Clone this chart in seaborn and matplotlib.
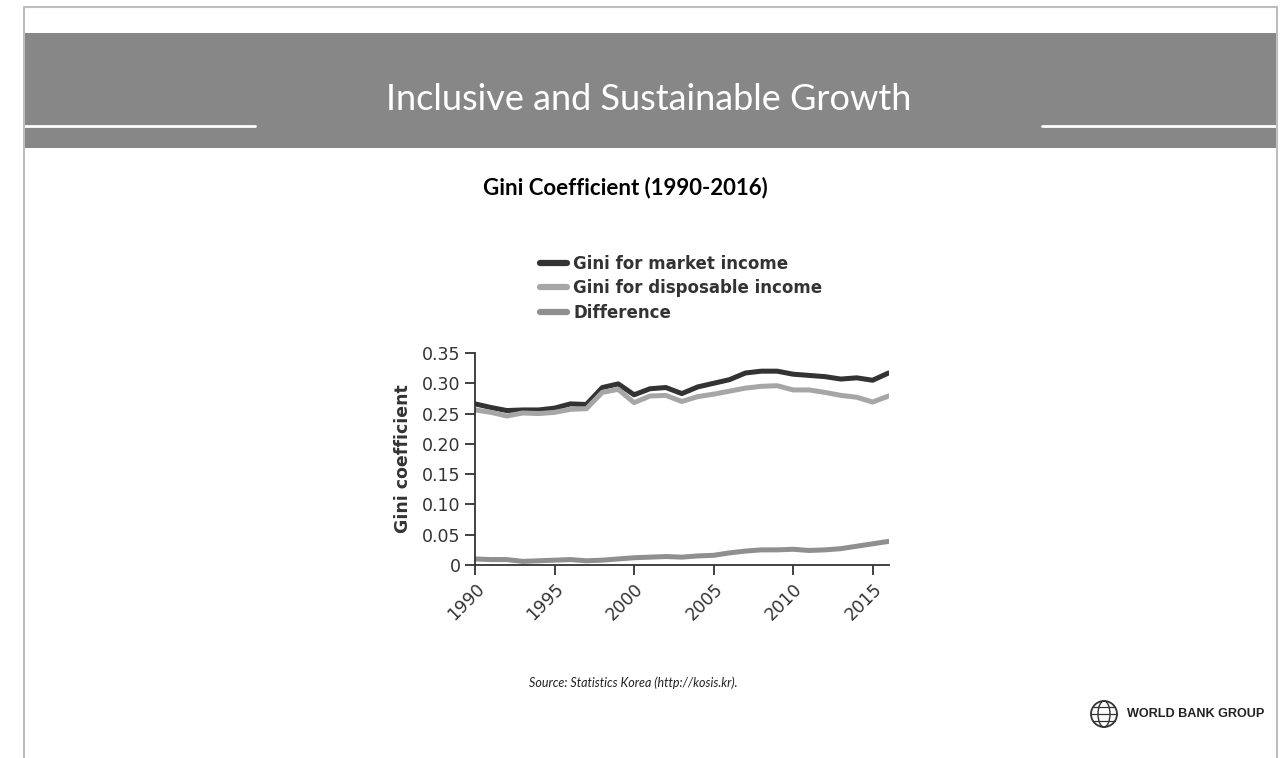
#!/usr/bin/env python3
import numpy as np
import pandas as pd
import seaborn as sns
from matplotlib import pyplot as plt
from matplotlib.patches import Rectangle, Circle, Ellipse
from matplotlib.lines import Line2D

years = list(range(1990, 2017))
market = [0.266, 0.260, 0.255, 0.256, 0.256, 0.259, 0.266, 0.265, 0.293, 0.299,
          0.281, 0.291, 0.293, 0.283, 0.294, 0.300, 0.306, 0.317, 0.320, 0.320,
          0.315, 0.313, 0.311, 0.307, 0.309, 0.305, 0.317]
disposable = [0.256, 0.252, 0.246, 0.251, 0.250, 0.252, 0.257, 0.258, 0.285, 0.290,
              0.268, 0.279, 0.280, 0.270, 0.278, 0.282, 0.287, 0.292, 0.295, 0.296,
              0.289, 0.289, 0.285, 0.280, 0.277, 0.269, 0.279]
difference = [0.010, 0.009, 0.009, 0.006, 0.007, 0.008, 0.009, 0.007, 0.008, 0.010,
              0.012, 0.013, 0.014, 0.013, 0.015, 0.016, 0.020, 0.023, 0.025, 0.025,
              0.026, 0.024, 0.025, 0.027, 0.031, 0.035, 0.039]
series_names = ["Gini for market income", "Gini for disposable income", "Difference"]
colors = ["#333333", "#a6a6a6", "#8f8f8f"]
yticks = [0, 0.05, 0.10, 0.15, 0.20, 0.25, 0.30, 0.35]
ytick_labels = ["0", "0.05", "0.10", "0.15", "0.20", "0.25", "0.30", "0.35"]
xticks = [1990, 1995, 2000, 2005, 2010, 2015]


def main():
    sns.set_style("ticks")
    plt.rcParams['font.family'] = ['DejaVu Sans']

    df = pd.DataFrame({
        "year": years * 3,
        "gini": market + disposable + difference,
        "series": [series_names[0]] * len(years) + [series_names[1]] * len(years)
                  + [series_names[2]] * len(years),
    })

    fig = plt.figure(figsize=(12.84, 7.58), dpi=100)

    # slide frame and banner
    bg = fig.add_axes([0, 0, 1, 1], zorder=0)
    bg.set_xlim(0, 1284)
    bg.set_ylim(758, 0)
    bg.axis("off")
    bg.add_patch(Rectangle((24, 33), 1253, 115, color="#878787", lw=0))
    bg.plot([24, 255], [126, 126], color="white", lw=2)
    bg.plot([1042, 1277], [126, 126], color="white", lw=2)
    bg.plot([24, 1277], [7, 7], color="#bdbdbd", lw=1.5)
    bg.plot([24, 24], [7, 758], color="#bdbdbd", lw=1.5)
    bg.plot([1277, 1277], [7, 758], color="#bdbdbd", lw=1.5)
    bg.text(649, 99, "Inclusive and Sustainable Growth", color="white",
            fontsize=26, fontweight="normal", ha="center", va="center", family="Lato")
    bg.text(625, 188, "Gini Coefficient (1990-2016)", color="black",
            fontsize=16, fontweight="bold", ha="center", va="center", family="Lato")
    bg.text(633, 683, "Source: Statistics Korea (http://kosis.kr).", color="#222222",
            fontsize=9, style="italic", ha="center", va="center", family="Lato")
    # world bank logo
    bg.add_patch(Circle((1104, 714), 13, fill=False, ec="#333333", lw=1.3))
    bg.add_patch(Ellipse((1104, 714), 12, 26, fill=False, ec="#333333", lw=1.0))
    bg.plot([1091, 1117], [714, 714], color="#333333", lw=0.9)
    bg.plot([1093, 1115], [707, 707], color="#333333", lw=0.9)
    bg.plot([1093, 1115], [721, 721], color="#333333", lw=0.9)
    bg.text(1127, 714, "WORLD BANK GROUP", color="#222222", fontsize=9.1,
            fontweight="bold", ha="left", va="center", family="Liberation Sans")

    ax = fig.add_axes([0.370, 0.2546, 0.322, 0.2797], zorder=2)
    sns.lineplot(data=df, x="year", y="gini", hue="series", palette=colors,
                 linewidth=3.6, ax=ax, legend=False)
    ax.set_xlim(1990, 2016)
    ax.set_ylim(0, 0.35)
    ax.set_yticks(yticks, ytick_labels)
    ax.set_xticks(xticks, [str(x) for x in xticks])
    for lab in ax.get_xticklabels():
        lab.set_rotation(45)
        lab.set_ha("right")
        lab.set_rotation_mode("anchor")
    ax.tick_params(axis="both", labelsize=12.5, colors="#333333", length=7, width=1.3)
    ax.set_xlabel("")
    ax.set_ylabel("Gini coefficient", fontsize=12.5, fontweight="bold", color="#333333",
                  labelpad=7)
    sns.despine(ax=ax)
    for s in ["left", "bottom"]:
        ax.spines[s].set_color("#333333")
        ax.spines[s].set_linewidth(1.3)

    handles = [Line2D([0], [0], color=c, lw=4.5) for c in colors]
    fig.legend(handles, series_names, loc="upper left", bbox_to_anchor=(0.409, 0.684),
               frameon=False, handlelength=1.6, handletextpad=0.4, labelspacing=0.4,
               prop={"weight": "bold", "size": 12}, labelcolor="#333333")

    plt.savefig("out.png", dpi=100)


if __name__ == '__main__':
    main()
